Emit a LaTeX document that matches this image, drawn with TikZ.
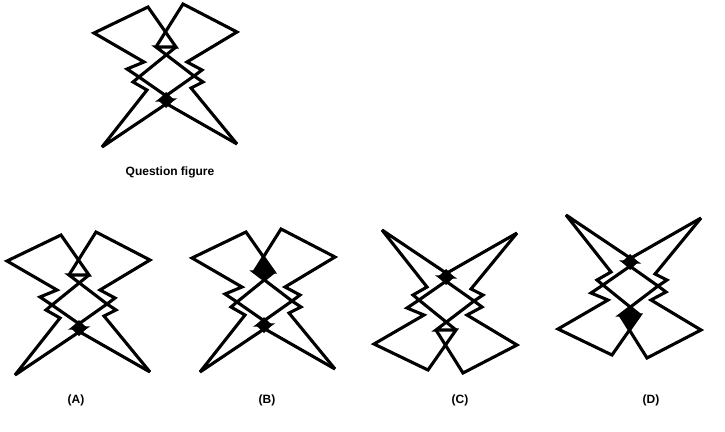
\documentclass[tikz,border=0pt]{standalone}
\usepackage{fontspec}
\setmainfont{Liberation Sans}
\begin{document}
\begin{tikzpicture}[x=1pt,y=-1pt,
  fig/.style={line width=3.1pt,line join=miter,miter limit=4,line cap=butt},
  lab/.style={font=\bfseries\fontsize{12}{14}\selectfont}]
\useasboundingbox (0,0) rectangle (725,431);
\newcommand\myfig[5]{%
 \begin{scope}[shift={(#1,#2)},yscale=#3]
  \draw[fig] (-64,147) -- (-19,90) -- (-33,82) -- (-27,77) -- (-39,69) -- (-22,62) -- (-72,33) -- (-18,7) -- (10,47) -- (-10,47) -- (28,76) -- (-6,100) -- (6,100) -- cycle;
  \draw[fig] (71,144) -- (25,88) -- (37,82) -- (28,76) -- (36,70) -- (21,62) -- (71,32) -- (17,4) -- (-10,47);
  \draw[fig] (10,47) -- (-27,77) -- (6,100);
  \draw[fig] (71,144) -- (-6,100);
  \ifnum#4=1 \fill (0,32) -- (11,46) -- (0,55) -- (-11,46) -- cycle;\fi
  \ifnum#5=1 \fill (0,92) -- (8,100) -- (0,108) -- (-8,100) -- cycle;\fi
 \end{scope}}
\myfig{166}{0}{1}{0}{1}
\myfig{79}{228}{1}{0}{1}
\myfig{264}{225}{1}{1}{1}
\myfig{446}{377}{-1}{0}{1}
\myfig{630}{362}{-1}{1}{1}
\node[lab] (q) at (170,172) {Question figure};
\node[lab] (a) at (76,400) {(A)};
\node[lab] (b) at (267,400) {(B)};
\node[lab] (c) at (460,400) {(C)};
\node[lab] (d) at (651,400) {(D)};
\end{tikzpicture}
\end{document}
